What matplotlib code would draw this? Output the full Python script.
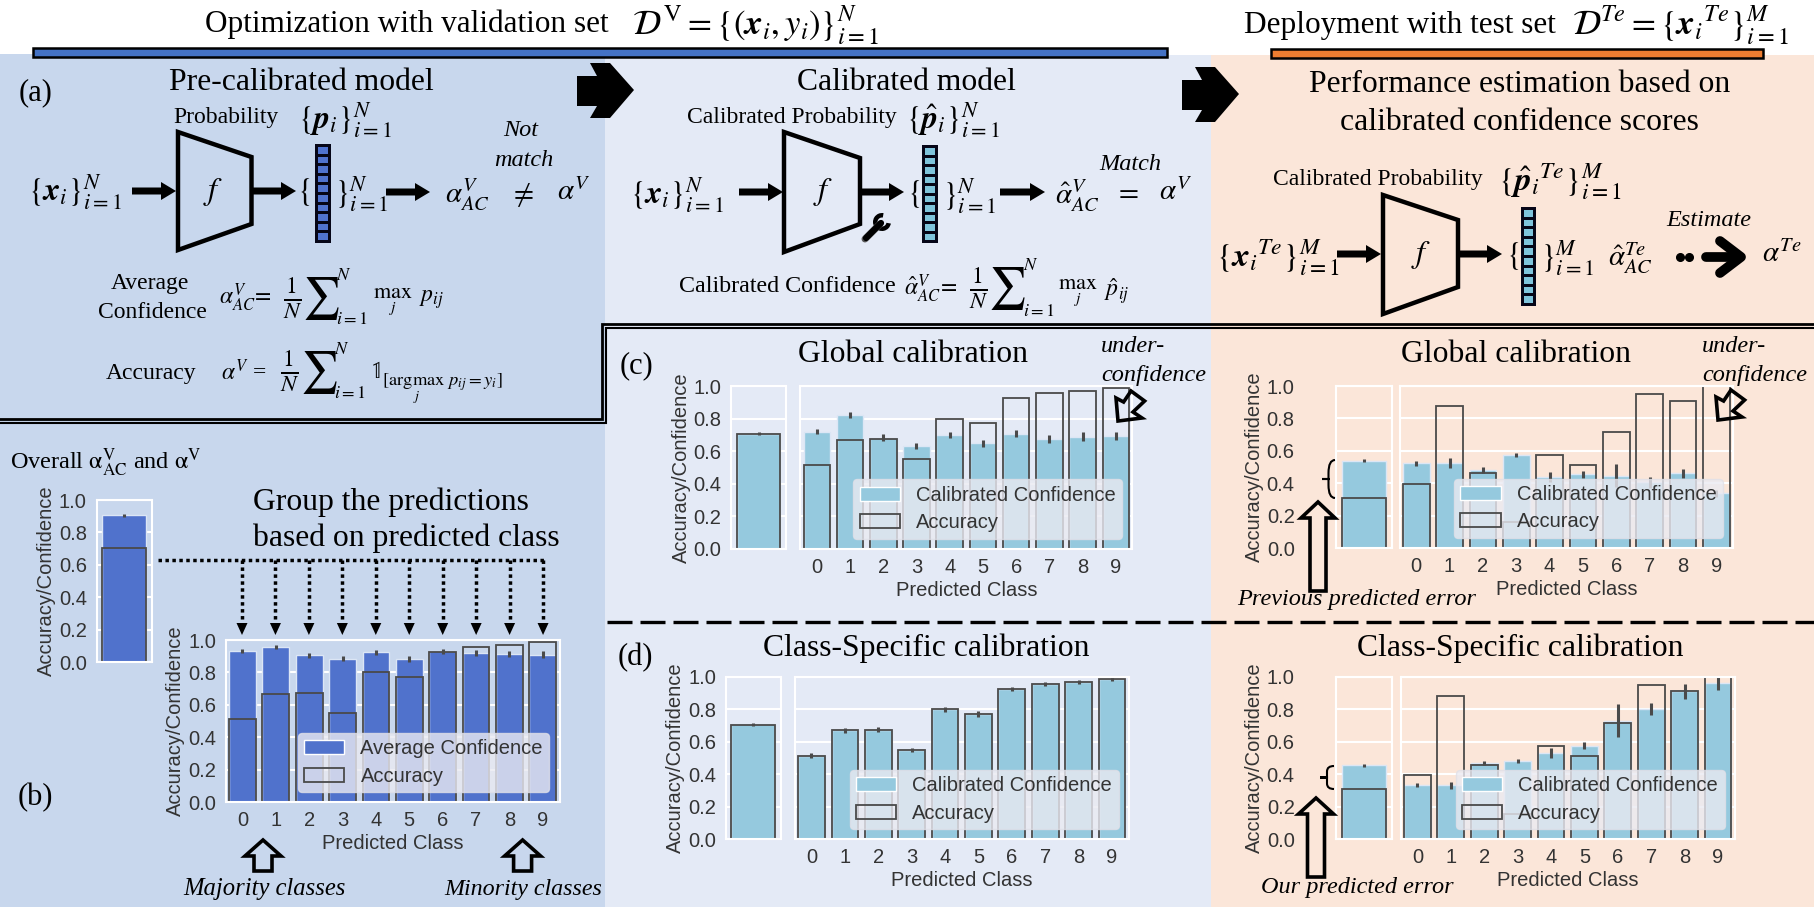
import matplotlib
matplotlib.use('Agg')
import matplotlib.pyplot as plt
from matplotlib.patches import Polygon, Rectangle, Patch, Wedge, PathPatch
from matplotlib.path import Path

plt.rcParams['font.family'] = ['Liberation Sans', 'DejaVu Sans']
plt.rcParams['mathtext.fontset'] = 'stix'

W, H = 1814, 907

# values
classes = list(range(10))

acc_val = [0.515, 0.67, 0.673, 0.55, 0.80, 0.772, 0.924, 0.957, 0.97, 0.986]
acc_test = [0.395, 0.879, 0.46, 0.158, 0.576, 0.51, 0.716, 0.95, 0.91, 1.0]
acc_val_all = 0.705
acc_test_all = 0.307

conf_b = [0.93, 0.955, 0.905, 0.885, 0.924, 0.883, 0.93, 0.92, 0.913, 0.91]
err_b = [0.012, 0.013, 0.014, 0.014, 0.014, 0.016, 0.015, 0.016, 0.018, 0.02]
conf_b_all = 0.905

conf_c_val = [0.72, 0.822, 0.682, 0.631, 0.70, 0.648, 0.707, 0.674, 0.689, 0.695]
err_c_val = [0.017, 0.017, 0.02, 0.017, 0.02, 0.022, 0.022, 0.024, 0.026, 0.024]
conf_c_val_all = 0.707

conf_c_test = [0.523, 0.523, 0.48, 0.574, 0.44, 0.455, 0.447, 0.405, 0.46, 0.337]
err_c_test = [0.015, 0.03, 0.02, 0.012, 0.03, 0.02, 0.07, 0.035, 0.03, 0.02]
conf_c_test_all = 0.54

conf_d_val = acc_val
err_d_val = [0.014, 0.016, 0.016, 0.014, 0.016, 0.017, 0.014, 0.013, 0.012, 0.01]
conf_d_val_all = 0.707

conf_d_test = [0.335, 0.331, 0.469, 0.479, 0.529, 0.576, 0.73, 0.802, 0.91, 0.959]
err_d_test = [0.012, 0.02, 0.015, 0.012, 0.03, 0.02, 0.1, 0.035, 0.045, 0.04]
conf_d_test_all = 0.455

err_all = 0.01

BLUE = '#5072CC'
SKY = '#95C9DE'
EDGE = '#4A4A4A'
SERIF = ['Liberation Serif', 'DejaVu Serif']

fig = plt.figure(figsize=(W / 100, H / 100), dpi=100)

# background layer
bg = fig.add_axes([0, 0, 1, 1], zorder=0)
bg.set_xlim(0, W)
bg.set_ylim(H, 0)
bg.axis('off')
bg.add_patch(Rectangle((0, 54), 605, H - 54, color='#C8D7ED', lw=0))
bg.add_patch(Rectangle((605, 55), 606, H - 55, color='#E4EAF6', lw=0))
bg.add_patch(Rectangle((1211, 55), W - 1211, H - 55, color='#FBE6D9', lw=0))

# annotation layer on top of the charts
fg = fig.add_axes([0, 0, 1, 1], zorder=5)
fg.set_xlim(0, W)
fg.set_ylim(H, 0)
fg.axis('off')
fg.patch.set_alpha(0)


def px_axes(x0, x1, y0, y1):
    return fig.add_axes([x0 / W, 1 - y1 / H, (x1 - x0) / W, (y1 - y0) / H], zorder=2)


def style(ax, ypad=7):
    ax.patch.set_alpha(0)
    ax.set_ylim(0, 1)
    ax.set_yticks([0, 0.2, 0.4, 0.6, 0.8, 1.0])
    ax.grid(axis='y', color='white', lw=1.5)
    ax.set_axisbelow(True)
    ax.tick_params(length=0, labelsize=14.5, colors='#333333')
    ax.tick_params(axis='y', pad=ypad)
    ax.tick_params(axis='x', pad=6.5)
    for s in ax.spines.values():
        s.set_color('white')
        s.set_linewidth(1.5)


def overall_bar(rect, conf, acc, color, ypad=7):
    ax = px_axes(*rect)
    style(ax, ypad)
    ax.bar([0], [conf], width=0.8, color=color, edgecolor='#DCE6F5', lw=1)
    ax.errorbar([0], [conf], yerr=[err_all], fmt='none', ecolor=EDGE, elinewidth=2.2)
    ax.bar([0], [acc], width=0.8, fill=False, edgecolor=EDGE, lw=1.3)
    ax.set_xlim(-0.5, 0.5)
    ax.set_xticks([])
    ax.set_ylabel('Accuracy/Confidence', fontsize=14.5, color='#333333', labelpad=2)
    return ax


def class_bars(rect, conf, err, acc, color, label, show_y=False):
    ax = px_axes(*rect)
    style(ax)
    ax.bar(classes, conf, width=0.8, color=color, edgecolor='#DCE6F5', lw=1)
    ax.errorbar(classes, conf, yerr=err, fmt='none', ecolor=EDGE, elinewidth=2.2)
    ax.bar(classes, acc, width=0.8, fill=False, edgecolor=EDGE, lw=1.3)
    ax.set_xlim(-0.5, 9.5)
    ax.set_xticks(classes)
    ax.set_xlabel('Predicted Class', fontsize=14.5, color='#333333', labelpad=3)
    if show_y:
        ax.set_ylabel('Accuracy/Confidence', fontsize=14.5, color='#333333', labelpad=2)
    else:
        ax.tick_params(labelleft=False)
    handles = [Patch(facecolor=color, edgecolor='white', label=label),
               Patch(facecolor='none', edgecolor=EDGE, lw=1.3, label='Accuracy')]
    ax.legend(handles=handles, loc='lower right', fontsize=14.5, facecolor='#EAEAF2',
              edgecolor='#E0E0E8', framealpha=0.8, labelcolor='#333333',
              borderpad=0.32, labelspacing=0.42)
    return ax


overall_bar((96.5, 152, 500, 662), conf_b_all, acc_val_all, BLUE)
class_bars((225.7, 559.5, 640, 802.3), conf_b, err_b, acc_val, BLUE, 'Average Confidence', show_y=True)

overall_bar((731, 786, 386, 548.7), conf_c_val_all, acc_val_all, SKY)
class_bars((800.2, 1132.4, 386, 548.7), conf_c_val, err_c_val, acc_val, SKY, 'Calibrated Confidence')

overall_bar((1336.3, 1391.8, 386, 548), conf_c_test_all, acc_test_all, SKY, ypad=30)
class_bars((1399.5, 1733, 386, 548), conf_c_test, err_c_test, acc_test, SKY, 'Calibrated Confidence')

overall_bar((725.6, 781, 676.7, 839.3), conf_d_val_all, acc_val_all, SKY)
class_bars((794.8, 1128.6, 676.7, 839.3), conf_d_val, err_d_val, acc_val, SKY, 'Calibrated Confidence')

overall_bar((1336.3, 1391.8, 676.7, 839.3), conf_d_test_all, acc_test_all, SKY, ypad=30)
class_bars((1400.7, 1734.7, 676.7, 839.3), conf_d_test, err_d_test, acc_test, SKY, 'Calibrated Confidence')


def t(x, y, s, size=17, ha='center', style='normal'):
    fg.text(x, y, s, fontsize=size, ha=ha, va='center', family=SERIF, style=style, color='black')


def solid_arrow(x0, x1, y):
    fg.add_patch(Polygon([(x0, y - 3.5), (x1 - 15, y - 3.5), (x1 - 15, y - 9), (x1, y),
                          (x1 - 15, y + 9), (x1 - 15, y + 3.5), (x0, y + 3.5)],
                         color='black', lw=0))


def hollow_up(cx, tip, base, bottom, head, shaft):
    fg.add_patch(Polygon([(cx, tip), (cx + head, base), (cx + shaft, base), (cx + shaft, bottom),
                          (cx - shaft, bottom), (cx - shaft, base), (cx - head, base)],
                         fc='none', ec='black', lw=2.6, joinstyle='miter'))


def model_box(x0, x1, y0, y1, y2, y3):
    fg.add_patch(Polygon([(x0, y0), (x1, y1), (x1, y2), (x0, y3)], fc='none', ec='black', lw=3.2))


def vector(x0, x1, y0, y1, color):
    fg.add_patch(Rectangle((x0, y0), x1 - x0, y1 - y0, color='#060618', lw=0))
    step = (y1 - y0 - 3) / 10
    for i in range(10):
        fg.add_patch(Rectangle((x0 + 3, y0 + 3 + i * step), x1 - x0 - 6, step - 3, color=color, lw=0))


def big_arrow(dx, dy):
    pts = [(577, 76), (597, 76), (590, 63), (610, 63), (634, 90), (610, 118), (590, 118), (597, 106), (577, 106)]
    fg.add_patch(Polygon([(a + dx, b + dy) for a, b in pts], color='black', lw=0))


def brace(xl, xr, y0, y1):
    ym = (y0 + y1) / 2
    xm = (xl + xr) / 2
    verts = [(xr, y0), (xm, y0), (xm, ym - 6), (xm, ym), (xl, ym), (xm, ym), (xm, ym + 6), (xm, y1), (xr, y1)]
    codes = [Path.MOVETO, Path.CURVE3, Path.LINETO, Path.LINETO, Path.LINETO, Path.LINETO, Path.LINETO, Path.CURVE3, Path.CURVE3]
    fg.add_patch(PathPatch(Path(verts, codes), fc='none', ec='black', lw=1.5))


def tilted_arrow(dx, dy):
    pts = [(1118, 421), (1116, 398), (1123.6, 402), (1131, 391), (1144.6, 401), (1133, 412), (1142, 418)]
    fg.add_patch(Polygon([(a + dx, b + dy) for a, b in pts], fc='none', ec='black', lw=2.6, joinstyle='miter'))


# header
t(205, 24, 'Optimization with validation set', 22.5, ha='left')
t(632, 25, r'$\mathcal{D}^{\,\mathrm{V}}=\{(\boldsymbol{x}_i,y_i)\}_{i=1}^{N}$', 25, ha='left')
t(1244, 25, 'Deployment with test set', 22.5, ha='left')
t(1572, 25, r'$\mathcal{D}^{Te}=\{\boldsymbol{x}_i{}^{Te}\}_{i=1}^{M}$', 25, ha='left')
fg.add_patch(Rectangle((33, 48), 1134, 9, fc='#4472C4', ec='black', lw=1.8))
fg.add_patch(Rectangle((1271, 49), 492, 8.5, fc='#ED7D31', ec='black', lw=1.8))

# double rules around panel (a)
fg.plot([0, 601.5, 601.5, W], [418.5, 418.5, 324, 324], color='black', lw=2, solid_joinstyle='miter')
fg.plot([0, 605.5, 605.5, W], [423, 423, 328, 328], color='black', lw=1.5, solid_joinstyle='miter')
fg.plot([607, W], [621.5, 621.5], color='black', lw=2.4, linestyle=(0, (7.5, 2.4)))

big_arrow(0, 0)
big_arrow(605, 4)

# panel (a)
t(19, 93, '(a)', 22, ha='left')
t(301, 83, 'Pre-calibrated model', 22.8)
t(173, 118, 'Probability', 17, ha='left')
t(298, 120, r'$\{\boldsymbol{p}_i\}_{i=1}^{N}$', 23, ha='left')
t(28, 192, r'$\{\boldsymbol{x}_i\}_{i=1}^{N}$', 23, ha='left')
solid_arrow(132, 176, 191)
model_box(178, 251.5, 132, 157, 224, 250)
t(213.5, 192, r'$f$', 23)
solid_arrow(253, 296, 191)
t(304, 192, r'$\{$', 23)
vector(315, 331, 144, 243, '#4F73D0')
t(334, 194, r'$\}_{i=1}^{N}$', 23, ha='left')
solid_arrow(386, 430, 192)
t(445, 194, r'$\alpha_{AC}^{V}$', 21, ha='left')
t(521, 195, r'$\neq$', 21)
t(557, 192, r'$\alpha^{V}$', 21, ha='left')
t(521, 131, 'Not', 17.5, style='italic')
t(524, 160, 'match', 17.5, style='italic')

t(149.5, 283, 'Average', 17)
t(152, 312, 'Confidence', 17)
t(219, 298, r'$\alpha_{AC}^{V}\!=$', 17, ha='left')
t(293, 298, r'$\frac{1}{N}$', 24)
t(321, 298, r'$\sum$', 30)
t(344, 275, r'$N$', 13)
t(352, 319, r'$i=1$', 13)
t(393, 302, r'$\max_{j}$', 16)
t(419, 300, r'$p_{ij}$', 17, ha='left')

t(151, 373, 'Accuracy', 17)
t(221, 372, r'$\alpha^{V}$ =', 17, ha='left')
t(290, 371, r'$\frac{1}{N}$', 24)
t(319, 372, r'$\sum$', 30)
t(342, 349, r'$N$', 13)
t(350, 394, r'$i=1$', 13)
t(375, 373, r'$\mathbb{1}$', 17)
t(382, 382, r'$_{[\mathrm{argmax}\,\,p_{ij}=y_i]}$', 19, ha='left')
t(417, 397, r'$j$', 10)

# calibrated model
t(906, 82, 'Calibrated model', 22.8)
t(687, 118, 'Calibrated Probability', 17, ha='left')
t(906, 120, r'$\{\hat{\boldsymbol{p}}_i\}_{i=1}^{N}$', 23, ha='left')
t(630, 195, r'$\{\boldsymbol{x}_i\}_{i=1}^{N}$', 23, ha='left')
solid_arrow(739, 783, 192)
model_box(784, 860, 132, 158, 224, 252)
t(823, 192, r'$f$', 23)
solid_arrow(862, 904, 192)
t(914, 194, r'$\{$', 23)
vector(922, 938, 145, 243, '#7FC4DC')
t(942, 196, r'$\}_{i=1}^{N}$', 23, ha='left')
solid_arrow(1000, 1045, 192)
t(1055, 195, r'$\hat{\alpha}_{AC}^{V}$', 21, ha='left')
t(1126, 192, r'$=$', 21)
t(1159, 192, r'$\alpha^{V}$', 21, ha='left')
t(1130, 164, 'Match', 17.5, style='italic')

# wrench
fg.plot([865, 880], [239, 224], color='#555555', lw=5, solid_capstyle='round')
fg.plot([866, 881], [238, 223], color='black', lw=4.5, solid_capstyle='round')
fg.add_patch(Wedge((882, 222), 9, 10, 280, width=4.5, color='black', lw=0))

t(679, 287, 'Calibrated Confidence', 17.3, ha='left')
t(904, 289, r'$\hat{\alpha}_{AC}^{V}\!=$', 17, ha='left')
t(979, 288, r'$\frac{1}{N}$', 24)
t(1007, 289, r'$\sum$', 30)
t(1031, 266, r'$N$', 13)
t(1039, 312, r'$i=1$', 13)
t(1078, 293, r'$\max_{j}$', 16)
t(1104, 291, r'$\hat{p}_{ij}$', 17, ha='left')

# deployment
t(1520, 85, 'Performance estimation based on', 22.8)
t(1519, 123, 'calibrated confidence scores', 22.8)
t(1273, 180, 'Calibrated Probability', 17, ha='left')
t(1498, 182, r'$\{\hat{\boldsymbol{p}}_i{}^{Te}\}_{i=1}^{M}$', 24, ha='left')
t(1216, 258, r'$\{\boldsymbol{x}_i{}^{Te}\}_{i=1}^{M}$', 24, ha='left')
solid_arrow(1337, 1381, 254)
model_box(1383, 1458, 195, 220, 287, 314)
t(1421, 255, r'$f$', 23)
solid_arrow(1460, 1502, 254)
t(1513, 256, r'$\{$', 23)
vector(1521, 1536, 207, 306, '#7FC4DC')
t(1540, 258, r'$\}_{i=1}^{M}$', 23, ha='left')
t(1608, 258, r'$\hat{\alpha}_{AC}^{Te}$', 21, ha='left')
fg.plot([1680, 1689], [257, 257], 'o', color='black', ms=5.5)
fg.plot([1706, 1738], [257, 257], color='black', lw=7, solid_capstyle='round')
fg.plot([1720, 1741, 1720], [241, 257, 273], color='black', lw=7, solid_capstyle='round', solid_joinstyle='round')
t(1762, 254, r'$\alpha^{Te}$', 21, ha='left')
t(1709, 221, 'Estimate', 17.5, style='italic')

# panel (b)
t(10, 463, r'Overall $\mathrm{\alpha_{AC}^{V}}$ and $\mathrm{\alpha^{V}}$', 17.5, ha='left')
t(253, 502, 'Group the predictions', 22.8, ha='left')
t(253, 538, 'based on predicted class', 22.8, ha='left')
t(18, 798, '(b)', 22, ha='left')
fg.plot([158, 545], [560, 560], color='black', lw=2.5, linestyle=(0, (1, 1)))
for i in classes:
    cx = 242 + i * 33.45
    fg.plot([cx, cx], [560, 623], color='black', lw=2.5, linestyle=(0, (1, 1)))
    fg.add_patch(Polygon([(cx - 5.5, 623), (cx + 5.5, 623), (cx, 635)], color='black', lw=0))
hollow_up(263, 840, 856, 871, 18, 9)
hollow_up(522.6, 840, 856, 871, 18, 9)
t(183, 889, 'Majority classes', 17.7, ha='left', style='italic')
t(444, 889, 'Minority classes', 17.3, ha='left', style='italic')

# panel (c)
t(620, 366, '(c)', 22, ha='left')
t(913, 355, 'Global calibration', 22.8)
t(1101, 347, 'under-', 17.5, ha='left', style='italic')
t(1101, 376, 'confidence', 17.5, ha='left', style='italic')
tilted_arrow(0, 0)
t(1516, 355, 'Global calibration', 22.8)
t(1702, 346, 'under-', 17.5, ha='left', style='italic')
t(1702, 375, 'confidence', 17.5, ha='left', style='italic')
tilted_arrow(600, -1)
brace(1322, 1335, 460, 498)
hollow_up(1318, 502, 518, 591, 17, 8)
t(1237, 600, 'Previous predicted error', 17.5, ha='left', style='italic')

# panel (d)
t(618, 658, '(d)', 22, ha='left')
t(926, 648, 'Class-Specific calibration', 22.8)
t(1520, 648, 'Class-Specific calibration', 22.8)
brace(1320, 1334, 766, 789)
hollow_up(1316, 798, 814, 877, 17.5, 8.5)
t(1261, 888, 'Our predicted error', 17.5, ha='left', style='italic')

fig.savefig('out.png', dpi=100)
